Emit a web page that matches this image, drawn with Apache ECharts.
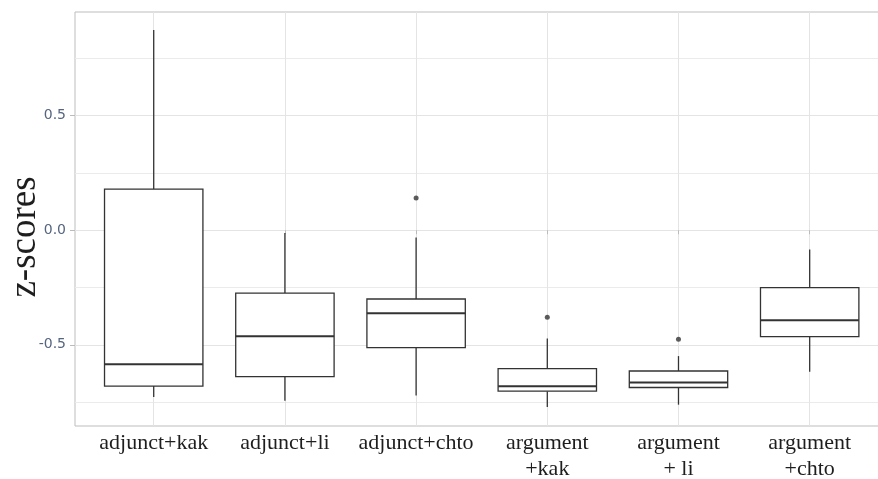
<!DOCTYPE html>
<html>
<head>
<meta charset="utf-8">
<script src="https://cdn.jsdelivr.net/npm/echarts@6/dist/echarts.min.js"></script>
<style>html,body{margin:0;padding:0;background:#fff}#c{width:878px;height:479px}</style>
</head>
<body>
<div id="c"></div>
<script>
var categories = ['adjunct+kak', 'adjunct+li', 'adjunct+chto', 'argument\n+kak', 'argument\n+ li', 'argument\n+chto'];
var lowerWhisker = [-0.728, -0.744, -0.721, -0.771, -0.761, -0.617];
var q1 = [-0.680, -0.639, -0.512, -0.702, -0.686, -0.464];
var median = [-0.585, -0.463, -0.362, -0.681, -0.664, -0.393];
var q3 = [0.179, -0.274, -0.300, -0.604, -0.614, -0.250];
var upperWhisker = [0.873, -0.012, -0.032, -0.472, -0.549, -0.084];
var outlierCategory = [3, 4, 5];
var outlierValue = [0.141, -0.380, -0.476];
var majorYTicks = [-0.5, 0, 0.5];
var minorYTicks = [-0.75, -0.25, 0.25, 0.75];
var xPositions = [1, 2, 3, 4, 5, 6];

var boxData = categories.map(function (c, i) {
  return [i + 1, lowerWhisker[i], q1[i], median[i], q3[i], upperWhisker[i]];
});
var outlierData = outlierCategory.map(function (c, i) { return [c, outlierValue[i]]; });

var stroke = '#333333';
var chart = echarts.init(document.getElementById('c'));
chart.setOption({
  animation: false,
  grid: { left: 75, top: 12, bottom: 53, right: -10.4, outerBoundsMode: 'none', containLabel: false, show: true, borderColor: '#bdbdbd', borderWidth: 1, backgroundColor: '#fff' },
  xAxis: [{
    type: 'value', min: 0.4, max: 6.6,
    axisLine: { show: false },
    axisTick: { show: true, length: 4, lineStyle: { color: '#bbbbbb' }, customValues: xPositions },
    axisLabel: {
      customValues: xPositions, margin: 4, color: '#1e1e1e',
      fontFamily: 'Liberation Serif', fontSize: 22, lineHeight: 26,
      formatter: function (v) { return categories[Math.round(v) - 1]; }
    },
    splitLine: { show: true, lineStyle: { color: '#e4e4e4', width: 1 } }
  }],
  yAxis: [{
    type: 'value', min: -0.854, max: 0.952,
    name: 'z-scores', nameLocation: 'middle', nameGap: 31, nameRotate: 90, nameMoveOverlap: false,
    nameTextStyle: { fontFamily: 'Liberation Serif', fontSize: 37, color: '#1e1e1e', padding: [0, 36, 0, 0] },
    axisLine: { show: false },
    axisTick: { show: true, length: 5, lineStyle: { color: '#bbbbbb' }, customValues: majorYTicks },
    axisLabel: {
      customValues: majorYTicks, margin: 9, color: '#56657f',
      fontFamily: 'DejaVu Sans', fontSize: 14,
      formatter: function (v) { return v.toFixed(1); }
    },
    splitLine: { show: true, lineStyle: { color: '#e4e4e4', width: 1 } }
  }, {
    type: 'value', min: -0.854, max: 0.952, position: 'left',
    axisLine: { show: false },
    axisTick: { show: false, customValues: minorYTicks },
    axisLabel: { show: false, customValues: minorYTicks },
    splitLine: { show: true, lineStyle: { color: '#ebebeb', width: 1 } }
  }],
  series: [{
    type: 'custom',
    xAxisIndex: 0, yAxisIndex: 0,
    data: boxData,
    encode: { x: 0, y: [1, 2, 3, 4, 5] },
    renderItem: function (params, api) {
      var x = api.value(0);
      var half = api.size([0.75, 0])[0] / 2;
      var pLow = api.coord([x, api.value(1)]);
      var pQ1 = api.coord([x, api.value(2)]);
      var pMed = api.coord([x, api.value(3)]);
      var pQ3 = api.coord([x, api.value(4)]);
      var pHigh = api.coord([x, api.value(5)]);
      var cx = pQ1[0];
      var ls = { stroke: stroke, lineWidth: 1.3, fill: null };
      return {
        type: 'group',
        children: [
          { type: 'line', shape: { x1: cx, y1: pQ3[1], x2: cx, y2: pHigh[1] }, style: ls },
          { type: 'line', shape: { x1: cx, y1: pQ1[1], x2: cx, y2: pLow[1] }, style: ls },
          { type: 'rect', shape: { x: cx - half, y: pQ3[1], width: half * 2, height: pQ1[1] - pQ3[1] }, style: { stroke: stroke, lineWidth: 1.3, fill: '#ffffff' } },
          { type: 'line', shape: { x1: cx - half, y1: pMed[1], x2: cx + half, y2: pMed[1] }, style: { stroke: stroke, lineWidth: 2 } }
        ]
      };
    }
  }, {
    type: 'scatter',
    xAxisIndex: 0, yAxisIndex: 0,
    data: outlierData,
    symbol: 'circle', symbolSize: 5,
    itemStyle: { color: stroke }
  }]
});
</script>
</body>
</html>
